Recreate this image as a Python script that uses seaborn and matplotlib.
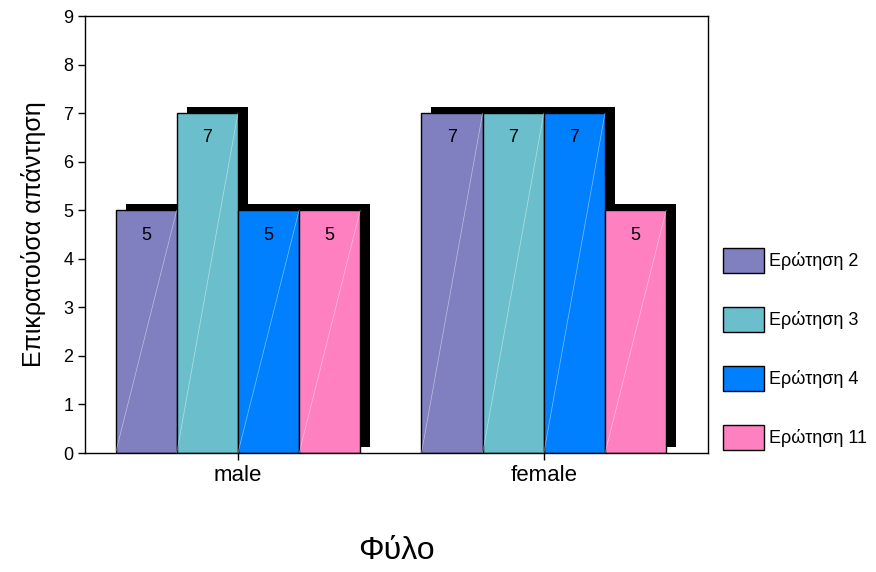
import numpy as np
import pandas as pd
import matplotlib
matplotlib.use('Agg')
import matplotlib.pyplot as plt
import matplotlib.patheffects as pe
import seaborn as sns

# δεδομένα
genders = ['male', 'female']
questions = ['Ερώτηση 2', 'Ερώτηση 3', 'Ερώτηση 4', 'Ερώτηση 11']
male_vals = [5, 7, 5, 5]
female_vals = [7, 7, 7, 5]
colors = ['#8080c0', '#6bbfcc', '#0080ff', '#ff80c0']

df = pd.DataFrame({
    'gender': ['male'] * 4 + ['female'] * 4,
    'question': questions * 2,
    'value': male_vals + female_vals,
})

sns.set_style('white')
plt.rcParams['font.family'] = ['Liberation Sans', 'DejaVu Sans']
plt.rcParams['text.color'] = 'black'
plt.rcParams['axes.labelcolor'] = 'black'
plt.rcParams['xtick.color'] = 'black'
plt.rcParams['ytick.color'] = 'black'

fig = plt.figure(figsize=(8.76, 5.72), dpi=100)
ax = fig.add_axes([0.097, 0.208, 0.711, 0.764])

sns.barplot(data=df, x='gender', y='value', hue='question', order=genders,
            hue_order=questions, palette=colors, width=0.8, saturation=1,
            edgecolor='black', linewidth=1, ax=ax, legend=True)

shadow = [pe.SimplePatchShadow(offset=(7.2, 4.3), shadow_rgbFace='black', alpha=1),
          pe.Normal()]
for p in ax.patches:
    if p.get_height() > 0:
        p.set_path_effects(shadow)
        x0, w, h = p.get_x(), p.get_width(), p.get_height()
        ax.plot([x0, x0 + w], [0, h], color='white', lw=0.5, alpha=0.5, zorder=3)

for c in ax.containers:
    ax.bar_label(c, fmt='%d', padding=-24, fontsize=13, color='black')

ax.set_xlim(-0.5, 1.536)
ax.set_ylim(0, 9)
ax.set_yticks(range(10))
ax.tick_params(axis='both', direction='out', length=5, width=1, color='black',
               left=True, bottom=True)
ax.tick_params(axis='y', labelsize=13)
ax.tick_params(axis='x', labelsize=16)
for s in ax.spines.values():
    s.set_color('black')
    s.set_linewidth(1)

ax.set_xlabel('Φύλο', fontsize=23, labelpad=36)
ax.set_ylabel('Επικρατούσα απάντηση', fontsize=18, labelpad=12)

handles, labels = ax.get_legend_handles_labels()
ax.legend(handles, labels, loc='lower left', bbox_to_anchor=(1.012, -0.01),
          frameon=False, fontsize=13, handlelength=2.3, handleheight=1.8,
          labelspacing=1.85, handletextpad=0.25, borderaxespad=0)

plt.savefig('out.png', dpi=100)
plt.close()
